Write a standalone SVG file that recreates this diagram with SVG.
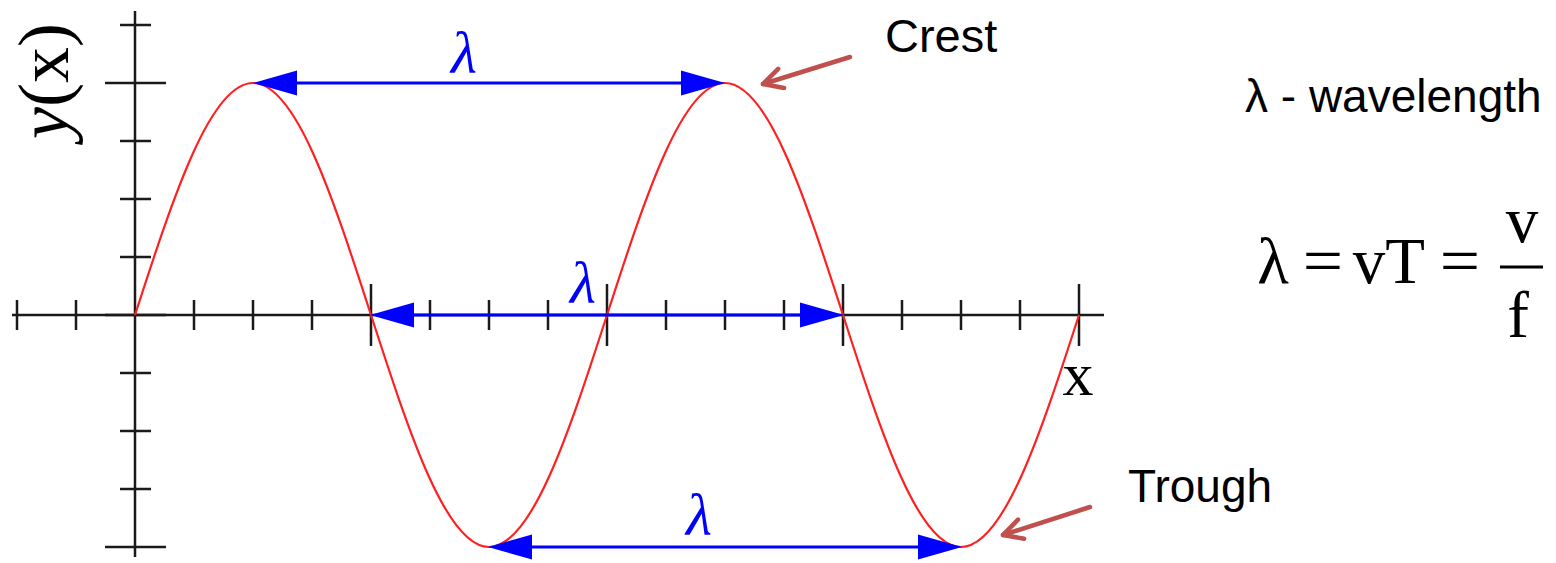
<svg xmlns="http://www.w3.org/2000/svg" width="1556" height="563" viewBox="0 0 1556 563">
<style>
.axis{stroke:#1a1a1a;stroke-width:2.5;fill:none}
.wave{stroke:#ff2020;stroke-width:2.2;fill:none}
.lam{stroke:#0000ff;stroke-width:3;fill:none}
.call{stroke:#c0504d;stroke-width:4.5;fill:none;stroke-linecap:round}
.sans{font-family:"Liberation Sans",Arial,sans-serif;fill:#000}
.serif{font-family:"Liberation Serif","Times New Roman",serif;fill:#000}
.bl{font-family:"Liberation Serif","Times New Roman",serif;font-style:italic;fill:#0000ff;font-size:60px;text-anchor:middle}
</style>
<defs>
<marker id="tri" markerUnits="userSpaceOnUse" markerWidth="46" markerHeight="26" viewBox="0 -13 46 26" refX="0" refY="0" orient="auto-start-reverse" overflow="visible">
<path d="M0,-12.5 L44,0 L0,12.5 Z" fill="#0000ff"/>
</marker>
<marker id="open" markerUnits="userSpaceOnUse" markerWidth="30" markerHeight="30" viewBox="-25 -15 30 30" refX="0" refY="0" orient="auto" overflow="visible">
<path d="M-19,-10 L0,0 L-19,10" fill="none" stroke="#c0504d" stroke-width="4.5" stroke-linecap="round" stroke-linejoin="round"/>
</marker>
</defs>
<g id="axes">
<line class="axis" x1="12" y1="315" x2="1104" y2="315"/>
<line class="axis" x1="135" y1="11" x2="135" y2="557"/>
<path class="axis" d="M17,300V330M76,300V330M194,300V330M253,300V330M312,300V330M430,300V330M489,300V330M548,300V330M666,300V330M725,300V330M784,300V330M902,300V330M961,300V330M1020,300V330"/>
<path class="axis" d="M371,284V346M607,284V346M843,284V346M1079,284V346"/>
<path class="axis" d="M120,25H151M120,141H151M120,199H151M120,257H151M120,373H151M120,431H151M120,489H151"/>
<path class="axis" d="M105,83H166M105,315H166M105,547H166"/>
</g>
<g id="wave">
<path class="wave" d="M135,315 C173.48,196.15 210.29,83 253,83 C295.71,83 332.52,196.15 371,315 C409.48,433.85 446.29,547 489,547 C531.71,547 568.52,433.85 607,315 C645.48,196.15 682.29,83 725,83 C767.71,83 804.52,196.15 843,315 C881.48,433.85 918.29,547 961,547 C1003.71,547 1040.52,433.85 1079,315"/>
</g>
<g id="connectors">
<line class="lam" x1="297" y1="83" x2="681" y2="83" marker-start="url(#tri)" marker-end="url(#tri)"/>
<line class="lam" x1="414" y1="315" x2="800" y2="315" marker-start="url(#tri)" marker-end="url(#tri)"/>
<line class="lam" x1="532" y1="547" x2="918" y2="547" marker-start="url(#tri)" marker-end="url(#tri)"/>
<line class="call" x1="850" y1="57" x2="763" y2="84" marker-end="url(#open)"/>
<line class="call" x1="1090" y1="507" x2="1003" y2="535" marker-end="url(#open)"/>
</g>
<g id="lambda-top"><text class="bl" x="464" y="73">λ</text></g>
<g id="lambda-mid"><text class="bl" x="583" y="303">λ</text></g>
<g id="lambda-bottom"><text class="bl" x="699" y="535">λ</text></g>
<g id="ylabel"><text class="serif" font-size="72" text-anchor="middle" transform="translate(68,81) rotate(-90)"><tspan font-style="italic">y</tspan>(x)</text></g>
<g id="xlabel"><text class="serif" font-size="62" text-anchor="middle" x="1078" y="395">x</text></g>
<g id="crest"><text class="sans" font-size="47" x="885" y="52">Crest</text></g>
<g id="trough"><text class="sans" font-size="46" x="1128" y="502">Trough</text></g>
<g id="legend"><text class="sans" font-size="46" x="1245" y="112">λ - wavelength</text></g>
<g id="formula" class="serif" font-size="65" text-anchor="middle">
<text x="1273" y="283">λ</text>
<text x="1323" y="283" transform="translate(1323 0) scale(1.1 1) translate(-1323 0)">=</text>
<text x="1369" y="283">v</text>
<text x="1405" y="283">T</text>
<text x="1460" y="283" transform="translate(1460 0) scale(1.1 1) translate(-1460 0)">=</text>
<line x1="1500" y1="267" x2="1543" y2="267" stroke="#000" stroke-width="3"/>
<text x="1522" y="242">v</text>
<text x="1518" y="337">f</text>
</g>
</svg>
